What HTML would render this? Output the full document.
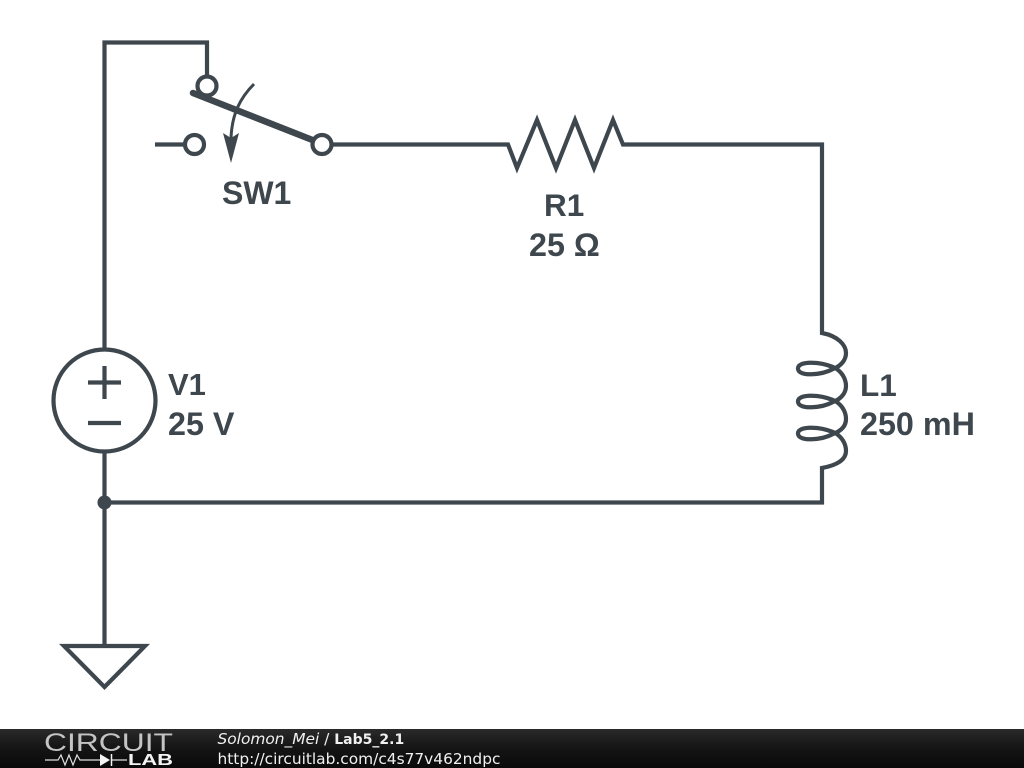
<!DOCTYPE html>
<html><head><meta charset="utf-8"><style>
html,body{margin:0;padding:0;background:#fff}
body{width:1024px;height:768px;overflow:hidden;position:relative}
svg{position:absolute;left:0;top:0}
</style></head><body>
<svg width="1024" height="768" viewBox="0 0 1024 768" xmlns="http://www.w3.org/2000/svg">
<defs><linearGradient id="g" x1="0" y1="0" x2="0" y2="1"><stop offset="0" stop-color="#2a2a2a"/><stop offset="0.5" stop-color="#141414"/><stop offset="1" stop-color="#0a0a0a"/></linearGradient></defs>
<rect width="1024" height="768" fill="#fff"/>
<g fill="none" stroke="#3e474d" stroke-width="4.200" stroke-linejoin="miter">
<path d="M104.5 349V42.500H207V76"/>
<path d="M193 93L315 141" stroke-width="6.500" stroke-linecap="round"/>
<circle cx="207" cy="86" r="9.500"/>
<path d="M155 144.500H185"/>
<circle cx="194.500" cy="144.500" r="9.500"/>
<circle cx="322" cy="144.500" r="9.500" fill="#fff"/>
<path d="M254 84C240 98 232 114 231 138" stroke-width="3"/>
<path d="M331.500 144.500H508L517 168L537 120L556 168L575 120L594 168L613 120L623 144.500H822V333C838 336 846 345 846 353C846 360 841 366 833 369C822 375 799 377 798 369C797 361 818 361 833 367C842 371 846 379 846 386C846 393 841 399 833 402C822 408 799 410 798 402C797 394 818 394 833 400C842 404 846 412 846 419C846 426 841 431 833 434C822 440 799 442 798 434C797 426 818 426 833 432C842 436 846 444 846 451C846 459 838 465 822 468V502.500H104.500"/>
<circle cx="104.500" cy="400.500" r="51"/>
<path d="M104.500 452V646"/>
<path d="M64 646H145L104.500 687Z"/>
<path d="M88 382.500H121M104.500 366V399M88 423H121"/>
</g>
<circle cx="104.500" cy="502.500" r="7" fill="#3e474d"/>
<path d="M223 133L231 138L239 133L231 163Z" fill="#3e474d"/>
<g font-family="'Liberation Sans',sans-serif" font-weight="700" font-size="32.300" fill="#3e474d" style="font-kerning:none">
<text x="222" y="204" font-size="32">SW1</text>
<text x="544" y="216" font-size="31.500">R1</text>
<text x="529" y="256">25 Ω</text>
<text x="168" y="395" font-size="31">V1</text>
<text x="168" y="435">25 V</text>
<text x="860" y="396" font-size="31.500">L1</text>
<text x="860" y="435">250 mH</text>
</g>
<rect x="0" y="729" width="1024" height="39" fill="url(#g)"/>
<text x="44" y="751" font-family="'Liberation Sans',sans-serif" font-size="25" fill="#c4c4c4" textLength="129" lengthAdjust="spacingAndGlyphs">CIRCUIT</text>
<path d="M45 760H58L61 755L65 765L69 755L73 765L77 755L80 760H100M112 760H127" fill="none" stroke="#e0e0e0" stroke-width="1.200"/>
<path d="M100 754L110 760L100 766Z" fill="#f4f4f4"/>
<path d="M111.500 754V766" stroke="#f4f4f4" stroke-width="1.500"/>
<text x="128" y="765" font-family="'Liberation Sans',sans-serif" font-weight="700" font-size="15.500" fill="#f4f4f4" textLength="45" lengthAdjust="spacingAndGlyphs">LAB</text>
<g font-family="'DejaVu Sans',sans-serif" font-size="15.400" fill="#f0f0f0">
<text x="217.500" y="744"><tspan font-style="italic">Solomon_Mei</tspan> / <tspan font-weight="700" font-size="14">Lab5_2.1</tspan></text>
<text x="217.500" y="764">http://circuitlab.com/c4s77v462ndpc</text>
</g>
</svg>
</body></html>
